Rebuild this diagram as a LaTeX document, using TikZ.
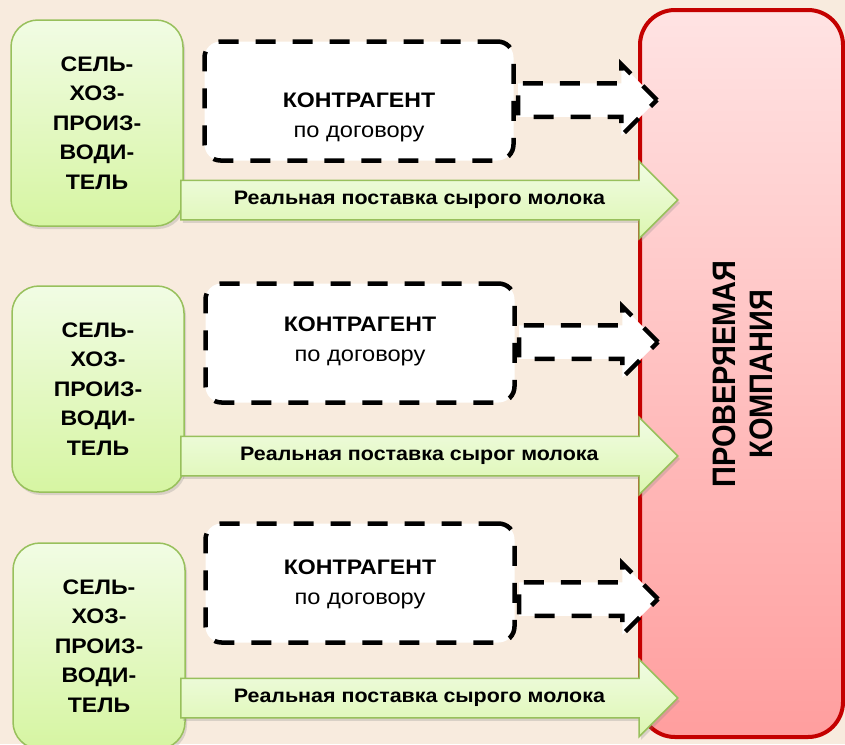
\documentclass[tikz,border=0pt]{standalone}
\usepackage{fontspec}
\setmainfont{Liberation Sans}[FakeStretch=1.1]
\newfontfamily\compfont{Liberation Sans}
\usetikzlibrary{shapes.arrows,shadows}

\definecolor{bgbeige}{RGB}{248,235,222}
\definecolor{farmtop}{RGB}{241,252,228}
\definecolor{farmbot}{RGB}{214,245,162}
\definecolor{farmline}{RGB}{152,192,92}
\definecolor{comptop}{RGB}{255,227,227}
\definecolor{compbot}{RGB}{255,158,158}
\definecolor{compline}{RGB}{196,0,0}

\tikzset{
    farm/.style={draw=farmline, line width=1.5pt, rounded corners=27pt,
        top color=farmtop, bottom color=farmbot,
        minimum width=172pt, minimum height=206pt, align=center,
        font=\fontsize{21}{29.5}\selectfont\bfseries,
        drop shadow={opacity=0.25, shadow xshift=2pt, shadow yshift=-3pt}},
    dashbox/.style={draw, line width=4.5pt, dash pattern=on 20pt off 17pt,
        fill=white, rounded corners=16pt,
        minimum width=309pt, minimum height=119pt},
    dasharrow/.style={single arrow, draw, line width=4.5pt,
        dash pattern=on 20pt off 17pt, fill=white,
        minimum height=139pt, inner xsep=0pt, inner ysep=14.5pt,
        single arrow head extend=19pt, single arrow tip angle=90,
        anchor=tail},
    supply/.style={single arrow, draw=farmline, line width=1.5pt,
        top color=farmtop, bottom color=farmbot!85!white,
        minimum height=497pt, inner ysep=11pt,
        text height=12pt, text depth=4pt,
        single arrow head extend=19pt, single arrow tip angle=90,
        anchor=tail, font=\fontsize{19.5}{22}\selectfont\bfseries,
        drop shadow={opacity=0.25, shadow xshift=2pt, shadow yshift=-3pt}},
    ctrtext/.style={align=center, font=\fontsize{21.5}{30}\selectfont},
}

\begin{document}
\begin{tikzpicture}[x=1pt, y=-1pt]
    \fill [bgbeige] (0, 0) rectangle (845, 744);
    \useasboundingbox (0, 0) rectangle (845, 744);

    % company
    \node [draw=compline, line width=4pt, rounded corners=35pt,
        top color=comptop, bottom color=compbot,
        minimum width=203pt, minimum height=727pt] (comp) at (741.5, 373.5) {};
    \node [xscale=1.12, rotate=90, transform shape, align=center,
        font=\compfont\fontsize{29}{33}\selectfont\bfseries]
        (comptxt) at (743, 374) {ПРОВЕРЯЕМАЯ\\КОМПАНИЯ};

    % farms
    \node [farm] (farm1) at (97, 123) {СЕЛЬ-\\ХОЗ-\\ПРОИЗ-\\ВОДИ-\\ТЕЛЬ};
    \node [farm] (farm2) at (98, 389) {СЕЛЬ-\\ХОЗ-\\ПРОИЗ-\\ВОДИ-\\ТЕЛЬ};
    \node [farm] (farm3) at (99, 646) {СЕЛЬ-\\ХОЗ-\\ПРОИЗ-\\ВОДИ-\\ТЕЛЬ};

    % contractors
    \node [dashbox] (ctr1) at (359, 101) {};
    \node [dashbox] (ctr2) at (360, 343) {};
    \node [dashbox] (ctr3) at (360, 583) {};
    \node [ctrtext] (ctr1txt) at (ctr1.center) [yshift=-16pt] {\fontsize{21}{30}\selectfont\bfseries КОНТРАГЕНТ\\по договору};
    \node [ctrtext] (ctr2txt) at (ctr2.center) [yshift=2pt] {\fontsize{21}{30}\selectfont\bfseries КОНТРАГЕНТ\\по договору};
    \node [ctrtext] (ctr3txt) at (ctr3.center) [yshift=-1pt] {\fontsize{21}{30}\selectfont\bfseries КОНТРАГЕНТ\\по договору};

    % paper flow
    \node [dasharrow] (doc1) at (ctr1.east |- 0, 100) {};
    \node [dasharrow] (doc2) at (ctr2.east |- 0, 342) {};
    \node [dasharrow] (doc3) at (ctr3.east |- 0, 599) {};

    % real flow
    \node [supply] (milk1) at (180, 200) {Реальная поставка сырого молока};
    \node [supply] (milk2) at (180, 456) {Реальная поставка сырог молока};
    \node [supply] (milk3) at (180, 698) {Реальная поставка сырого молока};
\end{tikzpicture}
\end{document}
